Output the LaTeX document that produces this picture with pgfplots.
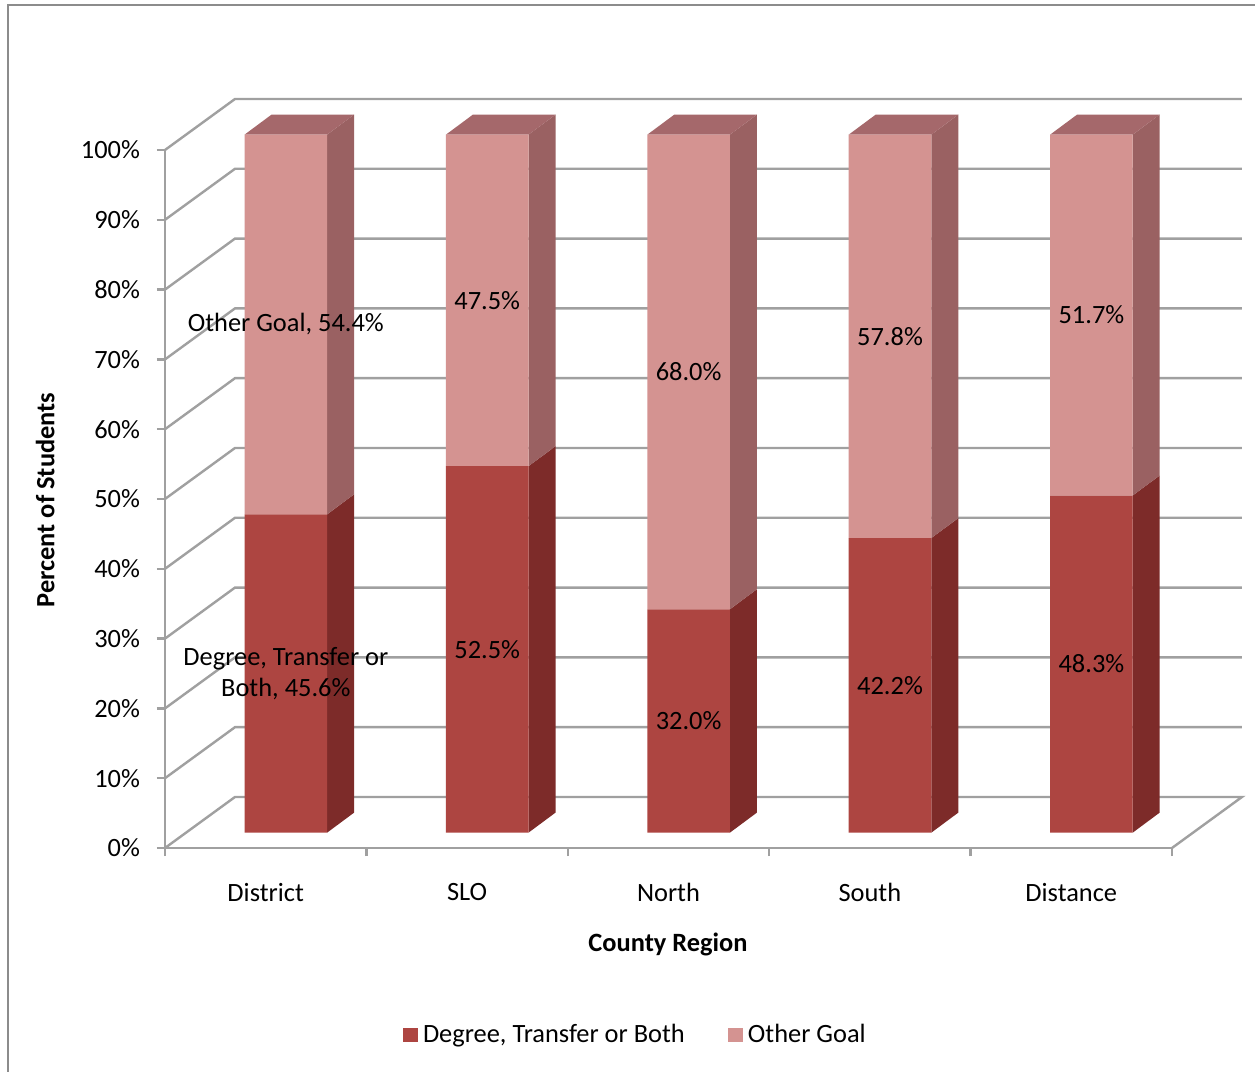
\documentclass[border=0pt]{standalone}
\usepackage{pgfplots}
\pgfplotsset{compat=1.18}
\usepackage{fontspec}
\setmainfont{Carlito}
\definecolor{lowF}{HTML}{AD4541}
\definecolor{upF}{HTML}{D49391}
\definecolor{lowS}{HTML}{7D2B29}
\definecolor{upS}{HTML}{9A6162}
\definecolor{topC}{HTML}{A5686B}
\definecolor{gridC}{HTML}{A0A0A0}
\definecolor{frameC}{HTML}{8C8C8C}
\newcommand{\fs}{\fontsize{13.2}{15.8}\selectfont}
\pgfplotsset{base/.style={scale only axis, width=503.5pt, height=349pt,
  xmin=0, xmax=5, ymin=0, ymax=100, clip=false, at={(0pt,0pt)}, anchor=south west}}
\begin{document}
\begin{tikzpicture}
\fill[white] (-82.5pt,-112pt) rectangle (545pt,424pt);
\useasboundingbox (-82.5pt,-112pt) rectangle (545pt,424pt);
\draw[frameC, line width=1pt] (-78.5pt,421.5pt) rectangle (560pt,-130pt);
% ---------- axis A: walls, axes, bar sides and tops
\begin{axis}[base,
  axis x line*=bottom, axis y line*=left,
  axis line style={gridC, line width=1.2pt, -},
  every tick/.style={gridC, line width=1.2pt},
  tick align=outside, major tick length=4pt,
  xtick={0,1,2,3,4,5}, xticklabels={District,SLO,North,South,Distance,{}},
  xticklabel style={xshift=50.35pt, yshift=-10pt},
  ytick={0,10,...,100},
  yticklabel={\pgfmathprintnumber{\tick}\%},
  yticklabel style={xshift=-5pt},
  tick label style={font=\fs},
  /pgf/number format/assume math mode=true,
  xlabel={County Region}, ylabel={Percent of Students},
  xlabel style={font=\fs\bfseries, at={(axis description cs:0.4995,-0.138)}, anchor=center},
  ylabel style={font=\fs\bfseries, at={(axis description cs:-0.119,0.4986)}, anchor=center},
]
\draw[gridC, line width=1.2pt] (axis cs:0,0) -- (axis cs:0.3476,7.31) -- (axis cs:5.3476,7.31) -- (axis cs:5,0);
\draw[gridC, line width=1.2pt] (axis cs:0,10) -- (axis cs:0.3476,17.31) -- (axis cs:5.3476,17.31);
\draw[gridC, line width=1.2pt] (axis cs:0,20) -- (axis cs:0.3476,27.31) -- (axis cs:5.3476,27.31);
\draw[gridC, line width=1.2pt] (axis cs:0,30) -- (axis cs:0.3476,37.31) -- (axis cs:5.3476,37.31);
\draw[gridC, line width=1.2pt] (axis cs:0,40) -- (axis cs:0.3476,47.31) -- (axis cs:5.3476,47.31);
\draw[gridC, line width=1.2pt] (axis cs:0,50) -- (axis cs:0.3476,57.31) -- (axis cs:5.3476,57.31);
\draw[gridC, line width=1.2pt] (axis cs:0,60) -- (axis cs:0.3476,67.31) -- (axis cs:5.3476,67.31);
\draw[gridC, line width=1.2pt] (axis cs:0,70) -- (axis cs:0.3476,77.31) -- (axis cs:5.3476,77.31);
\draw[gridC, line width=1.2pt] (axis cs:0,80) -- (axis cs:0.3476,87.31) -- (axis cs:5.3476,87.31);
\draw[gridC, line width=1.2pt] (axis cs:0,90) -- (axis cs:0.3476,97.31) -- (axis cs:5.3476,97.31);
\draw[gridC, line width=1.2pt] (axis cs:0,100) -- (axis cs:0.3476,107.31) -- (axis cs:5.3476,107.31);
% lower side faces
\addplot[fill=lowS, draw=none] coordinates {(0.805,2.2) (0.939,5.07) (0.939,50.67) (0.805,47.8)};
\addplot[fill=lowS, draw=none] coordinates {(1.805,2.2) (1.939,5.07) (1.939,57.57) (1.805,54.7)};
\addplot[fill=lowS, draw=none] coordinates {(2.805,2.2) (2.939,5.07) (2.939,37.07) (2.805,34.2)};
\addplot[fill=lowS, draw=none] coordinates {(3.805,2.2) (3.939,5.07) (3.939,47.27) (3.805,44.4)};
\addplot[fill=lowS, draw=none] coordinates {(4.805,2.2) (4.939,5.07) (4.939,53.37) (4.805,50.5)};
% upper side faces
\addplot[fill=upS, draw=none] coordinates {(0.805,47.8) (0.939,50.67) (0.939,105.07) (0.805,102.2)};
\addplot[fill=upS, draw=none] coordinates {(1.805,54.7) (1.939,57.57) (1.939,105.07) (1.805,102.2)};
\addplot[fill=upS, draw=none] coordinates {(2.805,34.2) (2.939,37.07) (2.939,105.07) (2.805,102.2)};
\addplot[fill=upS, draw=none] coordinates {(3.805,44.4) (3.939,47.27) (3.939,105.07) (3.805,102.2)};
\addplot[fill=upS, draw=none] coordinates {(4.805,50.5) (4.939,53.37) (4.939,105.07) (4.805,102.2)};
% tops
\addplot[fill=topC, draw=none] coordinates {(0.395,102.2) (0.805,102.2) (0.939,105.07) (0.529,105.07)};
\addplot[fill=topC, draw=none] coordinates {(1.395,102.2) (1.805,102.2) (1.939,105.07) (1.529,105.07)};
\addplot[fill=topC, draw=none] coordinates {(2.395,102.2) (2.805,102.2) (2.939,105.07) (2.529,105.07)};
\addplot[fill=topC, draw=none] coordinates {(3.395,102.2) (3.805,102.2) (3.939,105.07) (3.529,105.07)};
\addplot[fill=topC, draw=none] coordinates {(4.395,102.2) (4.805,102.2) (4.939,105.07) (4.529,105.07)};
\end{axis}
% ---------- axis B: front faces of the stacked bars
\begin{axis}[base, hide axis, ybar stacked, bar width=0.41,
  legend style={draw=none, fill=none, at={(0.4687,-0.268)}, anchor=center,
    legend columns=2, font=\fs, nodes={inner xsep=2.6pt},
    /tikz/every even column/.append style={column sep=19pt}},
  legend image code/.code={\fill[#1] (0pt,-3.7pt) rectangle (7.4pt,3.7pt);},
]
\addplot[forget plot, draw=none, fill=none] coordinates {(0.6,2.2) (1.6,2.2) (2.6,2.2) (3.6,2.2) (4.6,2.2)};
\addplot[fill=lowF, draw=none] coordinates {(0.6,45.6) (1.6,52.5) (2.6,32.0) (3.6,42.2) (4.6,48.3)};
\addlegendentry{Degree, Transfer or Both}
\addplot[fill=upF, draw=none] coordinates {(0.6,54.4) (1.6,47.5) (2.6,68.0) (3.6,57.8) (4.6,51.7)};
\addlegendentry{Other Goal}
\end{axis}
% ---------- axis C: data labels
\begin{axis}[base, hide axis]
\addplot[draw=none, mark=none, point meta=explicit symbolic, nodes near coords,
  every node near coord/.append style={font=\fs, anchor=center, align=center, text=black}]
  coordinates {
  (0.6,25.0) [Degree, Transfer or\\Both, 45.6\%]
  (0.6,75.0) [Other Goal, 54.4\%]
  (1.6,28.45) [52.5\%]
  (1.6,78.45) [47.5\%]
  (2.6,18.2) [32.0\%]
  (2.6,68.2) [68.0\%]
  (3.6,23.3) [42.2\%]
  (3.6,73.3) [57.8\%]
  (4.6,26.35) [48.3\%]
  (4.6,76.35) [51.7\%]
};
\end{axis}
\end{tikzpicture}
\end{document}
